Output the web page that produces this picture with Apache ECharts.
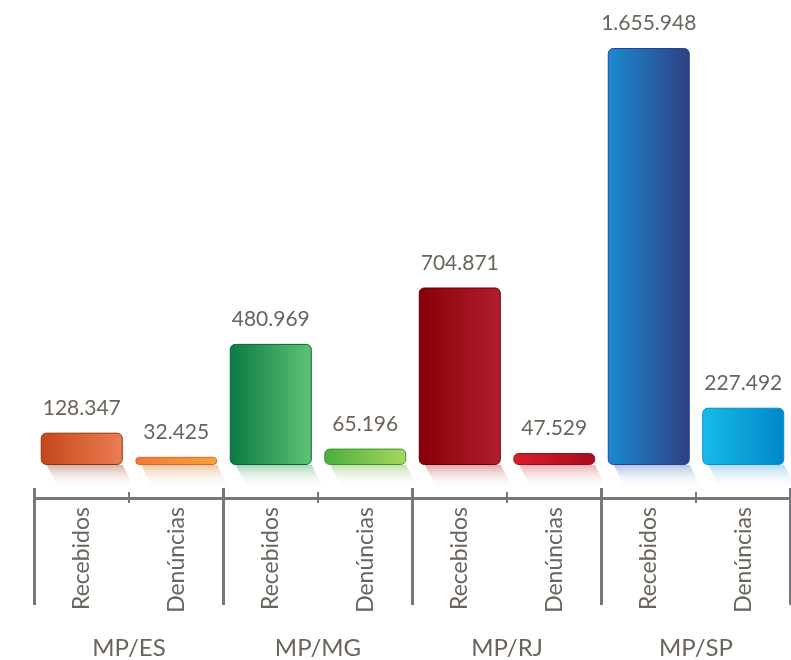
<!DOCTYPE html>
<html>
<head>
<meta charset="utf-8">
<script src="https://cdn.jsdelivr.net/npm/echarts@6/dist/echarts.min.js"></script>
<style>
  html, body { margin: 0; padding: 0; background: #fff; }
  #chart { width: 791px; height: 660px; }
</style>
</head>
<body>
<div id="chart"></div>
<script>
// data
var groups = ['MP/ES', 'MP/MG', 'MP/RJ', 'MP/SP'];
var subLabels = ['Recebidos', 'Denúncias', 'Recebidos', 'Denúncias', 'Recebidos', 'Denúncias', 'Recebidos', 'Denúncias'];
var values = [128347, 32425, 480969, 65196, 704871, 47529, 1655948, 227492];

// palette: [left, right, edge, reflection]
var palette = [
  ['#c4471b', '#ec7e52', '#8c3510', '#d6b4a6'],
  ['#f0783a', '#f6a43a', '#e0652a', '#efc8a6'],
  ['#0a7a45', '#5fc373', '#06603a', '#acd4b8'],
  ['#4aae3c', '#a8d65e', '#3a9430', '#c4e0b0'],
  ['#870008', '#b21d2e', '#650006', '#e2a8ac'],
  ['#d81c2c', '#a60d1e', '#a00a18', '#ebb2b6'],
  ['#1b8bd2', '#2f3f82', '#27409c', '#b4c4e0'],
  ['#17bbea', '#0088c8', '#0a8ccc', '#b0dbef']
];

var textColor = '#6b645d';
var axisColor = '#78787c';

function fmt(n) {
  return String(n).replace(/\B(?=(\d{3})+(?!\d))/g, '.');
}

var barData = values.map(function (v, i) {
  var c = palette[i];
  return {
    value: v,
    itemStyle: {
      color: new echarts.graphic.LinearGradient(0, 0, 1, 0, [
        { offset: 0, color: c[0] },
        { offset: 1, color: c[1] }
      ]),
      borderColor: c[2],
      borderWidth: 1,
      borderRadius: 5
    }
  };
});

var shadowData = values.map(function (v, i) { return [i, 0]; });

var chart = echarts.init(document.getElementById('chart'));

var axisBase = {
  type: 'category',
  gridIndex: 0,
  position: 'bottom',
  offset: 33,
  axisLine: { show: false, onZero: false },
  axisLabel: { show: false },
  splitLine: { show: false }
};

var option = {
  animation: false,
  grid: { left: 34.5, right: 0.5, top: 48, bottom: 195, containLabel: false },
  xAxis: [
    Object.assign({}, axisBase, {
      data: subLabels,
      axisLine: { show: true, onZero: false, lineStyle: { color: axisColor, width: 3 } },
      axisTick: { show: true, length: 5, lineStyle: { color: axisColor, width: 2 } },
      axisLabel: {
        show: true, rotate: 90, margin: 9, interval: 0,
        color: textColor, fontFamily: 'Lato', fontSize: 23
      }
    }),
    Object.assign({}, axisBase, {
      data: subLabels,
      axisTick: { show: true, inside: true, length: 6, lineStyle: { color: axisColor, width: 2 } }
    }),
    Object.assign({}, axisBase, {
      data: groups,
      axisTick: { show: true, length: 107, lineStyle: { color: axisColor, width: 3 } },
      axisLabel: {
        show: true, margin: 138, interval: 0,
        color: textColor, fontFamily: 'Lato', fontSize: 24
      }
    }),
    Object.assign({}, axisBase, {
      data: groups,
      axisTick: { show: true, inside: true, length: 10, lineStyle: { color: axisColor, width: 3 } }
    })
  ],
  yAxis: {
    type: 'value',
    min: 0,
    max: function (v) { return v.max; },
    show: false,
    splitLine: { show: false }
  },
  series: [
    {
      type: 'custom',
      xAxisIndex: 0,
      silent: true,
      encode: { x: 0, y: 1 },
      data: shadowData,
      renderItem: function (params, api) {
        var idx = api.value(0);
        var base = api.coord([idx, 0]);
        var w = api.size([1, 0])[0] * 0.868;
        var h = 24;
        var x0 = base[0] - w / 2;
        var x1 = base[0] + w / 2;
        var skew = 12;
        var col = palette[idx][3];
        return {
          type: 'polygon',
          shape: {
            points: [
              [x0 + 6, base[1]], [x1, base[1]],
              [x1 + skew, base[1] + h], [x0 + 6 + skew, base[1] + h]
            ]
          },
          style: {
            fill: new echarts.graphic.LinearGradient(0, 0, 0, 1, [
              { offset: 0, color: col },
              { offset: 1, color: 'rgba(255,255,255,0)' }
            ])
          }
        };
      }
    },
    {
      type: 'bar',
      xAxisIndex: 0,
      barWidth: 82,
      data: barData,
      label: {
        show: true,
        position: 'top',
        distance: 14,
        color: textColor,
        fontFamily: 'Lato',
        fontSize: 21,
        formatter: function (p) { return fmt(p.value); }
      }
    }
  ]
};

chart.setOption(option);
</script>
</body>
</html>
